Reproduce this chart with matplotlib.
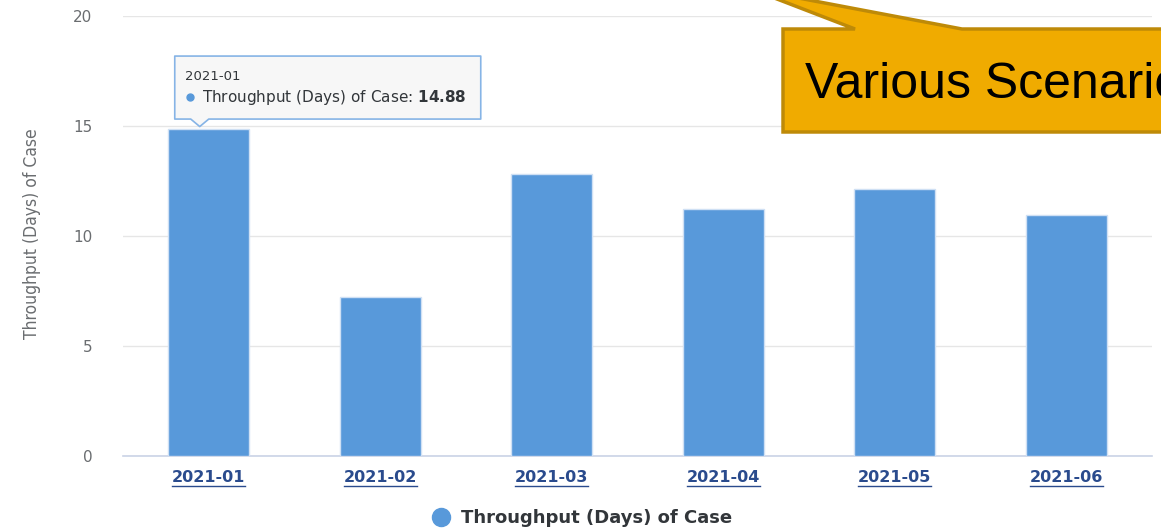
import matplotlib
matplotlib.use("Agg")
import matplotlib.pyplot as plt
from matplotlib import font_manager
from matplotlib.patches import Polygon
from matplotlib.lines import Line2D
import warnings
warnings.filterwarnings("ignore")

# ---- data ----
categories = ["2021-01", "2021-02", "2021-03", "2021-04", "2021-05", "2021-06"]
throughput = [14.88, 7.20, 12.80, 11.20, 12.15, 10.96]
series_name = "Throughput (Days) of Case"
y_ticks = [0, 5, 10, 15, 20]
callout_text = "Various Scenarios"

W, H = 1161, 530
fig = plt.figure(figsize=(W / 100, H / 100), dpi=100)
fig.patch.set_facecolor("white")
ax = fig.add_axes([123 / W, 1 - 455.7 / H, (1152 - 123) / W, (455.7 - 16) / H])

bar_color = "#5899DA"
x = list(range(len(categories)))
ax.bar(x, throughput, width=0.47, color=bar_color, edgecolor="#CFE0F4",
       linewidth=1.0, zorder=3)

ax.set_xlim(-0.5, len(categories) - 0.5)
ax.set_ylim(0, 20)
ax.set_yticks(y_ticks)
ax.set_yticklabels([str(t) for t in y_ticks])
ax.grid(axis="y", color="#E6E6E6", linewidth=1.0, zorder=0)
ax.set_axisbelow(True)
for s in ["top", "right", "left"]:
    ax.spines[s].set_visible(False)
ax.spines["bottom"].set_color("#CAD3E6")
ax.spines["bottom"].set_linewidth(1.2)
ax.tick_params(axis="y", length=0, pad=22, labelsize=11, labelcolor="#6A6D70")
ax.tick_params(axis="x", length=0, pad=10)
ax.set_xticks(x)
ax.set_xticklabels(categories, fontsize=11.5, fontweight="bold", color="#2A4B8D")

# condensed (regular weight) font for the y-axis title if available
names = {f.name for f in font_manager.fontManager.ttflist}
cond = [f for f in font_manager.fontManager.ttflist
        if f.name == "DejaVu Sans"
        and str(f.stretch) in ("condensed", "semi-condensed")
        and f.weight in (400, "normal", "regular", "book")
        and f.style == "normal"]
if "Liberation Sans Narrow" in names:
    ylab_kw = dict(family="Liberation Sans Narrow", fontsize=13)
elif cond:
    ylab_kw = dict(fontproperties=font_manager.FontProperties(fname=cond[0].fname, size=12.5))
else:
    ylab_kw = dict(family="DejaVu Sans", fontsize=11.3)
ax.set_ylabel(series_name, color="#6A6D70", va="center", **ylab_kw)
ax.yaxis.set_label_coords((32 - 123) / (1152 - 123), 0.505)

# legend
handle = Line2D([], [], marker="o", linestyle="", color=bar_color, markersize=13)
fig.legend([handle], [series_name], loc="center", bbox_to_anchor=(582 / W, 1 - 518 / H),
           frameon=False, prop={"weight": "bold", "size": 13}, labelcolor="#32363A",
           handletextpad=0.6, handlelength=1.0)

fig.canvas.draw()
renderer = fig.canvas.get_renderer()
to_fig = fig.transFigure.inverted()

# underline x tick labels
for lbl in ax.get_xticklabels():
    bb = lbl.get_window_extent(renderer)
    y_ul = bb.y0 - 1
    p0 = to_fig.transform((bb.x0, y_ul))
    p1 = to_fig.transform((bb.x1, y_ul))
    fig.add_artist(Line2D([p0[0], p1[0]], [p0[1], p1[1]], color="#2A4B8D",
                          linewidth=1.0, transform=fig.transFigure))

# tooltip anchored to first bar
ax_px, ay_px = ax.transData.transform((0, throughput[0]))
apex_x = ax_px - 9
apex_y = ay_px + 2
box_l, box_r = apex_x - 25, apex_x + 281
box_b = apex_y + 7.5
box_t = box_b + 63
tip_color = "#86B4E6"
pts = [(box_l, box_b), (apex_x - 9, box_b), (apex_x, apex_y), (apex_x + 9, box_b),
       (box_r, box_b), (box_r, box_t), (box_l, box_t)]
fig.add_artist(Polygon([to_fig.transform(p) for p in pts], closed=True,
                       facecolor="#F7F7F7", edgecolor=tip_color, linewidth=1.2,
                       transform=fig.transFigure, zorder=6, joinstyle="round"))
t1 = to_fig.transform((box_l + 10, box_t - 20))
fig.text(t1[0], t1[1], categories[0], fontsize=9.5, color="#32363A",
         va="center", ha="left", zorder=7)
d = to_fig.transform((box_l + 15, box_t - 41))
fig.add_artist(Line2D([d[0]], [d[1]], marker="o", markersize=5, color=bar_color,
                      linestyle="", transform=fig.transFigure, zorder=7))
t2 = to_fig.transform((box_l + 27, box_t - 41))
fig.text(t2[0], t2[1], series_name + r": $\mathbf{" + f"{throughput[0]:.2f}" + "}$",
         fontsize=11, color="#32363A", va="center", ha="left", zorder=7)

# callout (orange speech box), running off the right edge as in the reference
def px(xp, yp):
    return (xp / W, 1 - yp / H)

call = [px(783, 29), px(855, 29), px(751, -11), px(962, 29), px(1180, 29),
        px(1180, 132), px(783, 132)]
fig.add_artist(Polygon(call, closed=True, facecolor="#F0AB00", edgecolor="#BE8A08",
                       linewidth=2.5, transform=fig.transFigure, zorder=8,
                       joinstyle="miter"))
tp = px(805, 98)
fig.text(tp[0], tp[1], callout_text, fontsize=36, family="Liberation Sans",
         color="black", va="baseline", ha="left", zorder=9)

fig.savefig("out.png", dpi=100)
